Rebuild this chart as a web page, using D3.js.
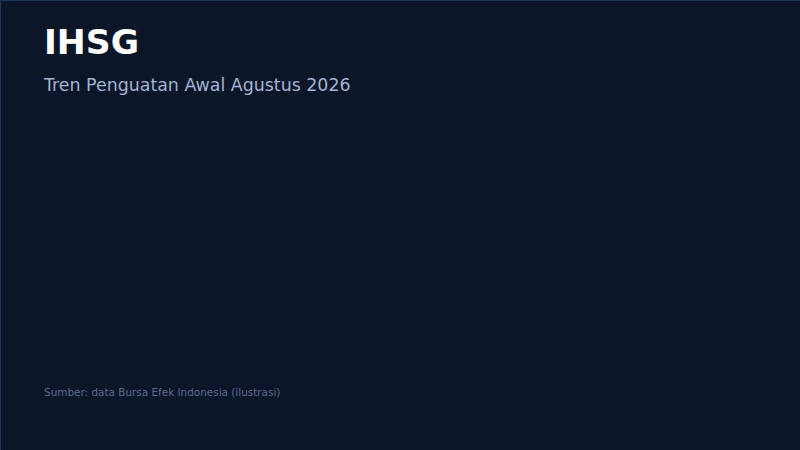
<!DOCTYPE html>
<html>
<head>
<meta charset="utf-8">
<script src="https://cdn.jsdelivr.net/npm/d3@7"></script>
<style>
  html, body { margin: 0; padding: 0; background: #0b1628; overflow: hidden; }
  svg { display: block; }
</style>
</head>
<body>
<script>
// Data (the reference chart shows no plotted marks)
const dates = [];
const values = [];
const titleText = "IHSG";
const subtitleText = "Tren Penguatan Awal Agustus 2026";
const sourceText = "Sumber: data Bursa Efek Indonesia (ilustrasi)";

const W = 800, H = 450;
const svg = d3.select("body").append("svg").attr("width", W).attr("height", H);

svg.append("rect").attr("x", 0).attr("y", 0).attr("width", W).attr("height", H).attr("fill", "#0b1628");
// border (top & left visible)
svg.append("rect").attr("x", 0.5).attr("y", 0.5).attr("width", W + 2).attr("height", H + 2)
  .attr("fill", "none").attr("stroke", "#1c3558").attr("stroke-width", 1);

const margin = {left: 44, right: 44, top: 110, bottom: 70};
const x = d3.scalePoint().domain(dates).range([margin.left, W - margin.right]);
const y = d3.scaleLinear().domain(values.length ? d3.extent(values) : [0, 1]).range([H - margin.bottom, margin.top]);

if (dates.length) {
  svg.append("path").datum(values)
    .attr("fill", "none").attr("stroke", "#38bdf8").attr("stroke-width", 2)
    .attr("d", d3.line().x((d, i) => x(dates[i])).y(d => y(d)));
}

svg.append("text").attr("x", 44).attr("y", 54.3)
  .attr("font-family", "DejaVu Sans").attr("font-weight", "bold").attr("font-size", 34.6)
  .attr("fill", "#ffffff").text(titleText);

svg.append("text").attr("x", 44).attr("y", 90.6)
  .attr("font-family", "DejaVu Sans").attr("font-size", 17.4)
  .attr("fill", "#a3b3d1").text(subtitleText);

svg.append("text").attr("x", 44).attr("y", 395.7)
  .attr("font-family", "DejaVu Sans").attr("font-size", 10.45)
  .attr("fill", "#5a6b8e").text(sourceText);
</script>
</body>
</html>
